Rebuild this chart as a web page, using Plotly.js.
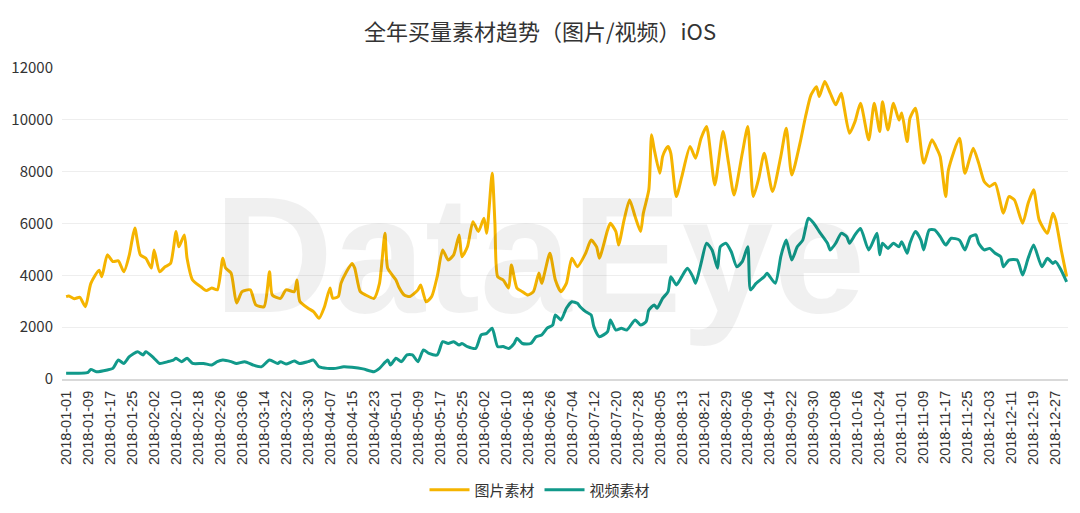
<!DOCTYPE html>
<html>
<head>
<meta charset="utf-8">
<script src="https://cdn.plot.ly/plotly-3.0.1.min.js"></script>
<style>
  html, body { margin: 0; padding: 0; background: #fff; }
  #chart { width: 1080px; height: 513px; }
</style>
</head>
<body>
<div id="chart"></div>
<script>
// 2018 daily buying-volume creatives, iOS (day = offset from 2018-01-01)
const seriesNames = ['图片素材', '视频素材'];

const imgDays = [0, 1, 3, 5, 7, 9, 12, 13, 15, 17, 19, 21, 23, 24, 25, 27, 29, 31, 32, 34, 36, 38, 40, 41, 43, 44, 46, 49, 51, 53, 55, 57, 58, 60, 62, 64, 67, 69, 72, 74, 75, 78, 80, 83, 84, 85, 88, 90, 92, 94, 96, 97, 99, 100, 102, 104, 105, 107, 109, 112, 114, 116, 117, 120, 121, 123, 125, 128, 129, 131, 133, 135, 137, 139, 141, 143, 144, 146, 148, 150, 152, 153, 155, 156, 157, 159, 161, 162, 164, 166, 168, 170, 172, 173, 176, 178, 180, 182, 184, 186, 189, 191, 193, 194, 197, 198, 200, 201, 203, 205, 207, 209, 210, 212, 213, 214, 216, 217, 218, 219, 220, 222, 224, 227, 229, 231, 233, 236, 239, 241, 243, 246, 248, 250, 252, 254, 257, 260, 262, 264, 267, 269, 271, 273, 274, 276, 278, 280, 282, 283, 285, 287, 289, 292, 294, 296, 297, 299, 301, 303, 304, 306, 307, 309, 312, 315, 317, 318, 320, 321, 325, 327, 330, 332, 334, 336, 338, 341, 343, 345, 348, 350, 352, 354, 357, 359, 360, 362, 364];
const imgValues = [3180, 3200, 3100, 3150, 2790, 3690, 4200, 3950, 4790, 4530, 4560, 4140, 4790, 5360, 5830, 4790, 4660, 4280, 4980, 4140, 4330, 4460, 5690, 5100, 5560, 4660, 3820, 3560, 3410, 3510, 3440, 4660, 4280, 4090, 2930, 3370, 3440, 2860, 2790, 4140, 3240, 3110, 3440, 3370, 3820, 3000, 2730, 2600, 2340, 2790, 3510, 3120, 3180, 3690, 4140, 4460, 4280, 3370, 3240, 3110, 3690, 5620, 4270, 3820, 3560, 3240, 3180, 3440, 3630, 2980, 3180, 3950, 4980, 4590, 4790, 5560, 4720, 5100, 6070, 5690, 6200, 5620, 7940, 6020, 3950, 3820, 3510, 4400, 3510, 3370, 3240, 3370, 4090, 3690, 4850, 3820, 3370, 3690, 4660, 4330, 4850, 5360, 5100, 4660, 5750, 6010, 5690, 5170, 6140, 6910, 6270, 5690, 6400, 7300, 9420, 8840, 7940, 8580, 8840, 8970, 8710, 7040, 7810, 8970, 8520, 9290, 9740, 7490, 9550, 8330, 7100, 8710, 9740, 7040, 7750, 8710, 7230, 8580, 9680, 7870, 9100, 10120, 10960, 11280, 10900, 11480, 11030, 10580, 11030, 10510, 9480, 9930, 10640, 9230, 10640, 9550, 10700, 9610, 10640, 9990, 10260, 9160, 10060, 10450, 8330, 9230, 8840, 8580, 7040, 8070, 9290, 7940, 8900, 8330, 7620, 7430, 7550, 6400, 7040, 6910, 6010, 6780, 7300, 6140, 5620, 6400, 6140, 5000, 3950];

const vidDays = [0, 8, 9, 11, 15, 17, 19, 21, 23, 26, 28, 29, 32, 34, 37, 39, 40, 42, 44, 46, 50, 53, 55, 57, 60, 62, 65, 68, 71, 74, 77, 78, 80, 83, 85, 88, 90, 92, 95, 98, 101, 104, 108, 112, 114, 117, 118, 120, 122, 124, 126, 128, 130, 132, 135, 137, 139, 141, 143, 144, 146, 149, 151, 153, 155, 157, 159, 161, 163, 164, 166, 169, 171, 173, 175, 177, 178, 180, 182, 184, 186, 187, 189, 191, 192, 194, 197, 198, 200, 202, 204, 207, 209, 211, 212, 214, 215, 217, 219, 220, 222, 224, 226, 228, 229, 231, 233, 235, 237, 238, 240, 242, 244, 246, 248, 249, 251, 254, 255, 258, 260, 261, 262, 264, 266, 268, 269, 270, 272, 274, 277, 278, 280, 282, 284, 285, 287, 289, 292, 295, 296, 297, 299, 301, 303, 304, 306, 307, 309, 311, 312, 314, 316, 318, 320, 322, 325, 327, 329, 331, 332, 334, 336, 338, 340, 341, 343, 346, 348, 350, 352, 355, 357, 359, 360, 362, 364];
const vidValues = [220, 260, 370, 280, 350, 410, 730, 600, 860, 1050, 930, 1050, 800, 600, 670, 730, 800, 670, 800, 600, 600, 540, 670, 730, 670, 600, 670, 540, 470, 730, 600, 670, 580, 690, 600, 670, 730, 470, 410, 410, 470, 450, 390, 280, 410, 730, 540, 800, 670, 930, 930, 670, 1120, 990, 930, 1440, 1370, 1440, 1310, 1370, 1250, 1180, 1700, 1760, 1960, 1250, 1250, 1180, 1370, 1570, 1370, 1370, 1630, 1700, 1960, 2080, 2470, 2280, 2730, 2980, 2920, 2790, 2600, 2470, 2020, 1630, 1830, 2280, 1890, 1960, 1890, 2280, 2080, 2210, 2660, 2860, 2730, 3110, 3370, 3950, 3630, 3950, 4270, 3950, 3690, 4460, 5240, 4980, 4270, 5100, 5240, 4910, 4330, 4530, 5100, 3440, 3690, 3950, 4080, 3690, 4720, 5100, 5360, 4590, 5100, 5360, 5810, 6200, 6010, 5690, 5240, 4980, 5240, 5620, 5490, 5240, 5560, 5810, 4980, 5620, 4790, 5240, 5040, 5240, 5100, 5300, 4850, 5240, 5690, 5360, 4980, 5750, 5750, 5490, 5170, 5430, 5360, 4980, 5490, 5560, 5240, 4980, 5040, 4850, 4720, 4330, 4590, 4590, 4010, 4660, 5170, 4330, 4660, 4460, 4530, 4200, 3750];

const seriesColors = ['#f5b400', '#11998a'];

function toDate(d) {
    const dt = new Date(Date.UTC(2018, 0, 1 + d));
    return dt.toISOString().slice(0, 10);
}

const font = 'Noto Sans CJK SC, Noto Sans, sans-serif';

const traces = [
    { days: imgDays, values: imgValues },
    { days: vidDays, values: vidValues }
].map((s, i) => ({
    x: s.days.map(toDate),
    y: s.values,
    name: seriesNames[i],
    type: 'scatter',
    mode: 'lines',
    line: { color: seriesColors[i], width: 3, shape: 'spline', smoothing: 0.6 },
    hoverinfo: 'x+y+name'
}));

const layout = {
    width: 1080,
    height: 513,
    paper_bgcolor: '#fff',
    plot_bgcolor: '#fff',
    font: { family: font, color: '#333' },
    margin: { l: 62, r: 12, t: 68, b: 134, autoexpand: false },
    title: {
        text: '全年买量素材趋势（图片/视频）iOS',
        font: { family: font, size: 22, color: '#333' },
        x: 0.5,
        xanchor: 'center',
        y: 0.938,
        yanchor: 'middle'
    },
    xaxis: {
        type: 'date',
        range: ['2017-12-30 12:00', '2018-12-31 12:00'],
        tick0: '2018-01-01',
        dtick: 8 * 86400000,
        tickformat: '%Y-%m-%d',
        tickangle: -90,
        tickfont: { family: 'Liberation Sans, Arial, sans-serif', size: 14.5, color: '#333' },
        ticklabelstandoff: 4,
        showgrid: false,
        showline: true,
        linecolor: '#d9d9d9',
        linewidth: 2,
        ticks: '',
        zeroline: false
    },
    yaxis: {
        range: [0, 12000],
        dtick: 2000,
        tickformat: 'd',
        tickfont: { family: font, size: 15, color: '#333' },
        gridcolor: '#eeeeee',
        gridwidth: 1,
        zeroline: false,
        showline: false,
        ticks: '',
        ticklabelstandoff: 8
    },
    showlegend: true,
    legend: {
        orientation: 'h',
        x: 0.5,
        xanchor: 'center',
        xref: 'container',
        yref: 'container',
        y: 0.045,
        yanchor: 'middle',
        font: { family: font, size: 15, color: '#333' },
        itemwidth: 40
    },
    annotations: [{
        text: 'DataEye',
        xref: 'paper',
        yref: 'paper',
        x: 0.475,
        y: 0.4,
        showarrow: false,
        font: { family: 'Liberation Sans, Arial, sans-serif', size: 165, weight: 'bold', color: 'rgba(0,0,0,0.06)' }
    }]
};

Plotly.newPlot('chart', traces, layout, { displayModeBar: false, staticPlot: true });
</script>
</body>
</html>
